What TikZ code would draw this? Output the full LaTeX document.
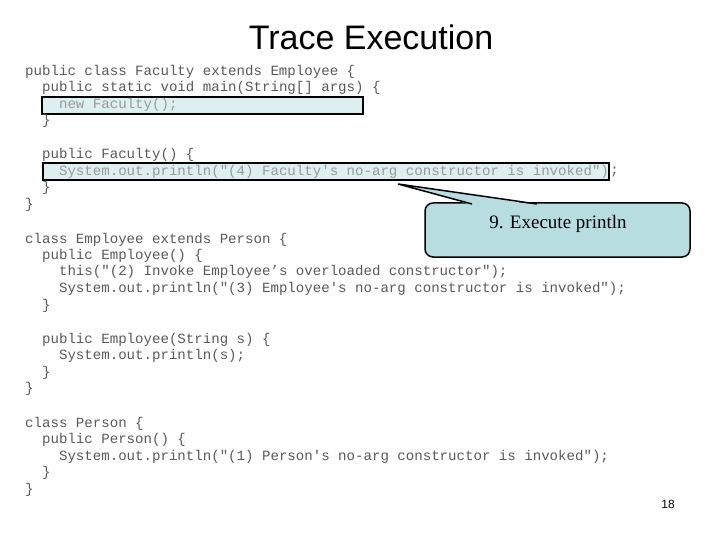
\documentclass[tikz,border=0pt]{standalone}
\usepackage{fontspec}
\setmainfont{Liberation Serif}
\newfontfamily\arialf{Liberation Sans}
\newfontfamily\codef{Liberation Mono}
\definecolor{hlfill}{HTML}{DDEFF0}
\definecolor{callfill}{HTML}{B8DDE0}
\begin{document}
\begin{tikzpicture}[x=1pt,y=-1pt,
  code/.style={anchor=west,inner sep=0pt,font=\codef\fontsize{14.1}{16}\selectfont,text=black!65},
  hl/.style={draw=black,line width=1.6pt,fill=hlfill}]
\useasboundingbox[fill=white] (0,0) rectangle (720,540);
\node[anchor=center,font=\arialf\fontsize{34}{40}\selectfont] (title) at (371,37) {Trace Execution};
\draw[hl] (42,97) rectangle (363,114);
\draw[hl] (43,163) rectangle (609,180);
\coordinate (ptip) at (398,184);
\draw[line width=1.5pt,rounded corners=8pt,fill=callfill] (425,203) rectangle (690,257);
\fill[fill=callfill] (ptip) -- (472,205) -- (537,205) -- cycle;
\draw[line width=1.5pt] (472,204) -- (ptip) -- (537,204);
\node[font=\fontsize{19}{21}\selectfont] (call) at (558,224) {9. Execute println};
\node[code] (l1) at (25,72) {public class Faculty extends Employee \{};
\node[code] (l2) at (25,88) {\ \ public static void main(String[] args) \{};
\node[code,text=black!40] (l3) at (25,105) {\ \ \ \ new Faculty();};
\node[code] (l4) at (25,121) {\ \ \}};
\node[code] (l5) at (25,155) {\ \ public Faculty() \{};
\node[code,text=black!40] (l6) at (25,172) {\ \ \ \ System.out.println("(4) Faculty's no-arg constructor is invoked")};
\node[code] (l6b) at ([xshift=1pt]l6.east) {;};
\node[code] (l7) at (25,188) {\ \ \}};
\node[code] (l8) at (25,205) {\}};
\node[code] (l9) at (25,240) {class Employee extends Person \{};
\node[code] (l10) at (25,256) {\ \ public Employee() \{};
\node[code] (l11) at (25,272) {\ \ \ \ this("(2) Invoke Employee’s overloaded constructor");};
\node[code] (l12) at (25,289) {\ \ \ \ System.out.println("(3) Employee's no-arg constructor is invoked");};
\node[code] (l13) at (25,306) {\ \ \}};
\node[code] (l14) at (25,340) {\ \ public Employee(String s) \{};
\node[code] (l15) at (25,356) {\ \ \ \ System.out.println(s);};
\node[code] (l16) at (25,373) {\ \ \}};
\node[code] (l17) at (25,389) {\}};
\node[code] (l18) at (25,424) {class Person \{};
\node[code] (l19) at (25,440) {\ \ public Person() \{};
\node[code] (l20) at (25,457) {\ \ \ \ System.out.println("(1) Person's no-arg constructor is invoked");};
\node[code] (l21) at (25,473) {\ \ \}};
\node[code] (l22) at (25,490) {\}};
\node[font=\arialf\fontsize{12}{14}\selectfont] (pg) at (668,504) {18};
\end{tikzpicture}
\end{document}
